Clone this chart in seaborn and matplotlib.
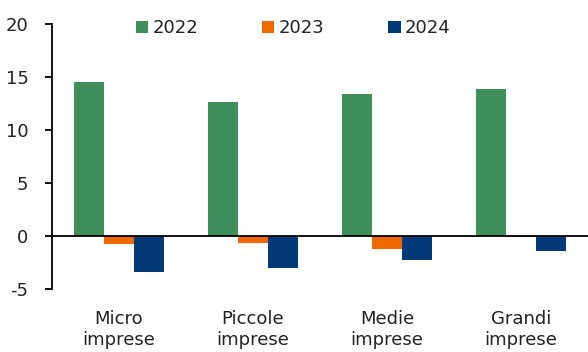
import matplotlib
matplotlib.use("Agg")
import matplotlib.pyplot as plt
import seaborn as sns
import pandas as pd

categories = ["Micro\nimprese", "Piccole\nimprese", "Medie\nimprese", "Grandi\nimprese"]
years = ["2022", "2023", "2024"]
values_2022 = [14.5, 12.6, 13.4, 13.85]
values_2023 = [-0.75, -0.65, -1.2, -0.05]
values_2024 = [-3.4, -3.0, -2.3, -1.45]
yticks = [-5, 0, 5, 10, 15, 20]

palette = {"2022": "#3F8F5A", "2023": "#EE6A00", "2024": "#003A78"}

df = pd.DataFrame({
    "categoria": categories * 3,
    "anno": [y for y in years for _ in categories],
    "valore": values_2022 + values_2023 + values_2024,
})

sns.set_style("white")
plt.rcParams["font.family"] = ["DejaVu Sans"]

fig = plt.figure(figsize=(5.88, 3.52), dpi=100)
ax = fig.add_axes([52 / 588, 63 / 352, 536 / 588, 265 / 352])

sns.barplot(data=df, x="categoria", y="valore", hue="anno", order=categories,
            hue_order=years, palette=palette, width=0.67, saturation=1,
            edgecolor="none", linewidth=0, ax=ax)

ax.set_ylim(-5, 20)
ax.set_xlim(-0.5, 3.5)
ax.set_yticks(yticks)
ax.set_yticklabels([str(t) for t in yticks], fontsize=13, color="#222222")
ax.axhline(0, color="black", lw=1.3, zorder=3)

for side in ["top", "right", "bottom"]:
    ax.spines[side].set_visible(False)
ax.spines["left"].set_color("black")
ax.spines["left"].set_linewidth(1.3)
ax.tick_params(axis="y", direction="out", length=5, width=1.3, color="black", pad=12, left=True)
ax.tick_params(axis="x", length=0, pad=15, labelsize=13, labelcolor="#222222")
for lbl in ax.get_xticklabels():
    lbl.set_linespacing(1.25)
ax.set_xlabel("")
ax.set_ylabel("")

ax.legend(loc="upper center", bbox_to_anchor=(0.45, 1.08), ncol=3, frameon=False,
          fontsize=13, handlelength=0.67, handleheight=0.67, handletextpad=0.25,
          columnspacing=3.55, labelcolor="#222222")

fig.savefig("out.png", dpi=100)
